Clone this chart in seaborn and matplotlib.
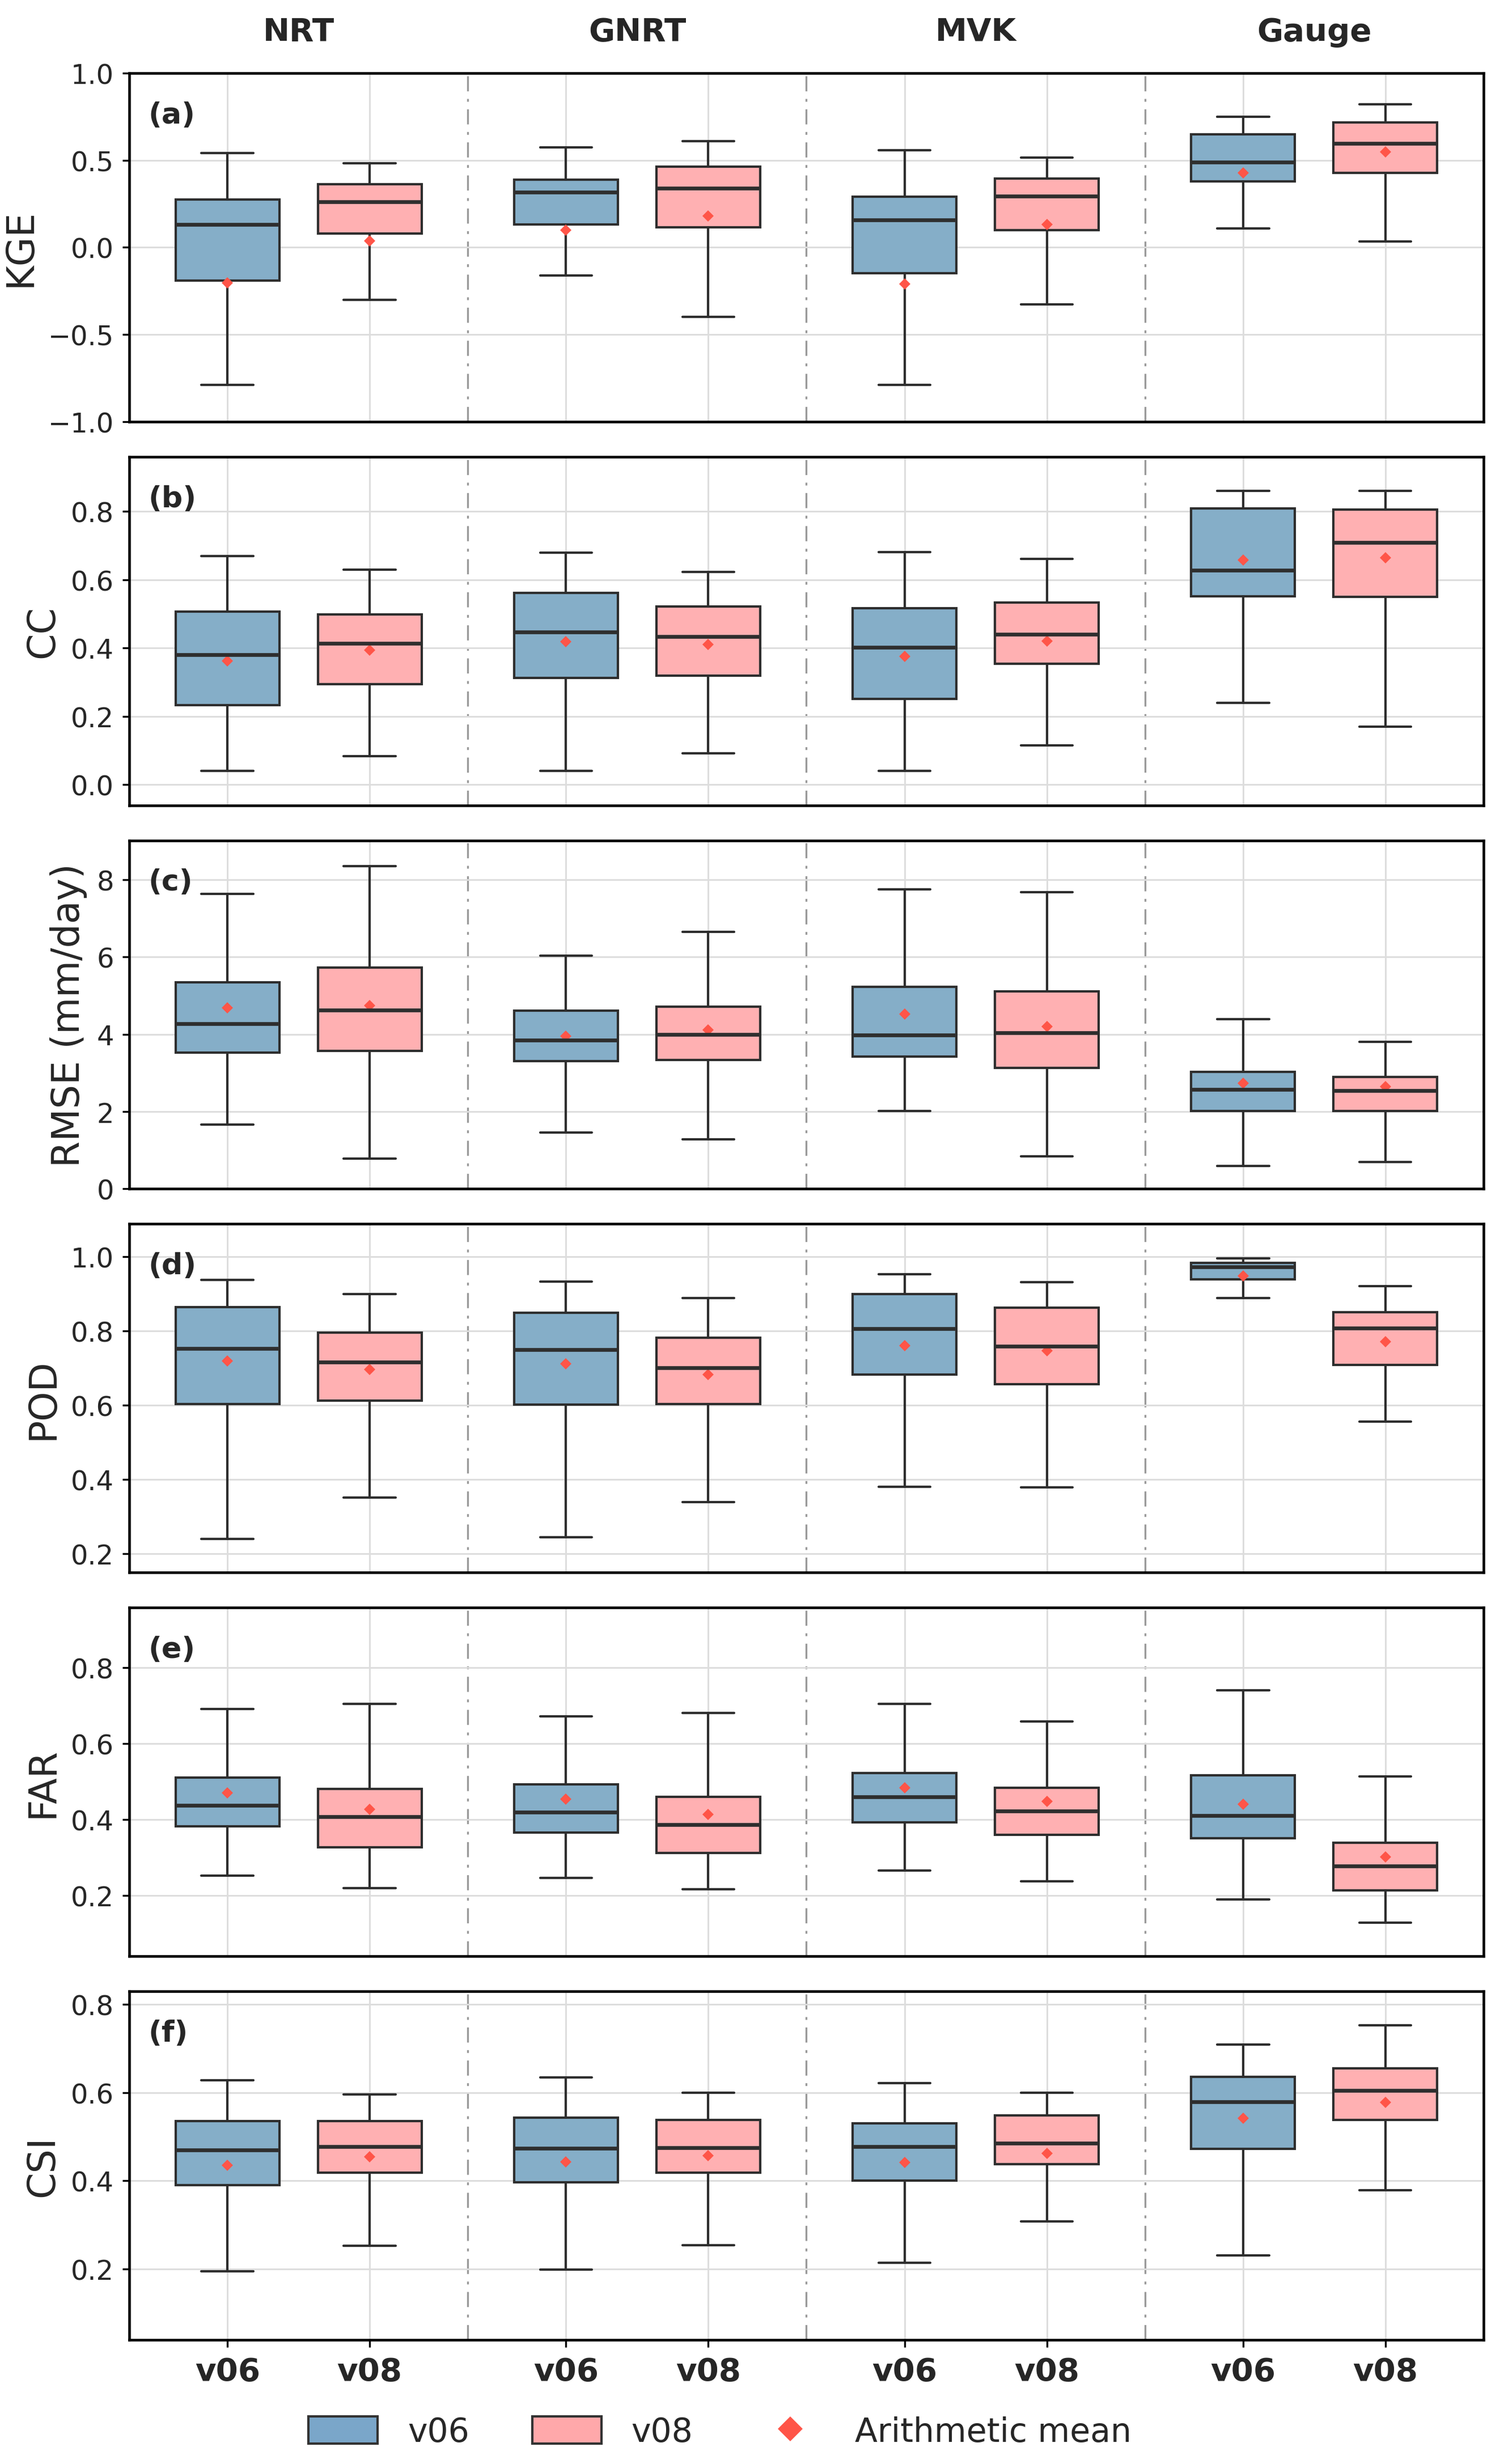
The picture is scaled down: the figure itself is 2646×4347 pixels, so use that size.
import matplotlib
matplotlib.use('Agg')
import matplotlib.pyplot as plt
from matplotlib.patches import Patch
from matplotlib.lines import Line2D
import numpy as np
import pandas as pd
import seaborn as sns

#%% data
groups = ['NRT', 'GNRT', 'MVK', 'Gauge']
versions = ['v06', 'v08']
metric_names = ['KGE', 'CC', 'RMSE (mm/day)', 'POD', 'FAR', 'CSI']
panel_tags = ['(a)', '(b)', '(c)', '(d)', '(e)', '(f)']

# each row: whisker low, Q1, median, Q3, whisker high
# row order: NRT v06, NRT v08, GNRT v06, GNRT v08, MVK v06, MVK v08, Gauge v06, Gauge v08
kge_box = [
    [-0.79, -0.19, 0.13, 0.275, 0.54],
    [-0.30, 0.078, 0.26, 0.364, 0.483],
    [-0.16, 0.13, 0.318, 0.389, 0.574],
    [-0.40, 0.115, 0.34, 0.464, 0.609],
    [-0.788, -0.147, 0.158, 0.29, 0.557],
    [-0.326, 0.098, 0.293, 0.396, 0.516],
    [0.108, 0.38, 0.49, 0.649, 0.75],
    [0.035, 0.426, 0.597, 0.717, 0.82],
]
kge_mean = [-0.205, 0.038, 0.098, 0.18, -0.21, 0.13, 0.426, 0.547]

cc_box = [
    [0.04, 0.233, 0.381, 0.506, 0.67],
    [0.084, 0.294, 0.414, 0.499, 0.63],
    [0.04, 0.312, 0.447, 0.561, 0.679],
    [0.092, 0.319, 0.433, 0.522, 0.623],
    [0.04, 0.252, 0.403, 0.516, 0.681],
    [0.115, 0.354, 0.441, 0.534, 0.661],
    [0.24, 0.552, 0.628, 0.808, 0.86],
    [0.17, 0.55, 0.709, 0.806, 0.86],
]
cc_mean = [0.363, 0.394, 0.418, 0.41, 0.375, 0.42, 0.657, 0.665]

rmse_box = [
    [1.67, 3.53, 4.28, 5.35, 7.63],
    [0.79, 3.57, 4.63, 5.73, 8.36],
    [1.46, 3.31, 3.85, 4.61, 6.04],
    [1.28, 3.34, 4.0, 4.72, 6.65],
    [2.02, 3.42, 3.98, 5.23, 7.75],
    [0.84, 3.13, 4.04, 5.11, 7.68],
    [0.6, 2.01, 2.58, 3.03, 4.39],
    [0.69, 2.01, 2.55, 2.9, 3.8],
]
rmse_mean = [4.68, 4.75, 3.96, 4.12, 4.53, 4.2, 2.74, 2.64]

pod_box = [
    [0.241, 0.603, 0.752, 0.863, 0.937],
    [0.352, 0.612, 0.716, 0.795, 0.898],
    [0.245, 0.601, 0.75, 0.848, 0.933],
    [0.339, 0.603, 0.7, 0.781, 0.888],
    [0.381, 0.683, 0.805, 0.899, 0.952],
    [0.379, 0.656, 0.759, 0.862, 0.931],
    [0.888, 0.939, 0.972, 0.983, 0.995],
    [0.556, 0.708, 0.808, 0.85, 0.92],
]
pod_mean = [0.719, 0.696, 0.712, 0.683, 0.76, 0.746, 0.947, 0.77]

far_box = [
    [0.252, 0.382, 0.438, 0.51, 0.691],
    [0.219, 0.327, 0.408, 0.481, 0.704],
    [0.246, 0.365, 0.419, 0.492, 0.672],
    [0.216, 0.312, 0.387, 0.459, 0.68],
    [0.266, 0.393, 0.459, 0.522, 0.704],
    [0.237, 0.36, 0.423, 0.484, 0.659],
    [0.189, 0.351, 0.41, 0.516, 0.74],
    [0.128, 0.213, 0.278, 0.339, 0.513],
]
far_mean = [0.47, 0.427, 0.454, 0.413, 0.483, 0.448, 0.441, 0.301]

csi_box = [
    [0.195, 0.39, 0.47, 0.535, 0.628],
    [0.253, 0.418, 0.477, 0.535, 0.596],
    [0.199, 0.397, 0.474, 0.543, 0.634],
    [0.254, 0.418, 0.475, 0.538, 0.599],
    [0.215, 0.401, 0.478, 0.53, 0.621],
    [0.308, 0.438, 0.485, 0.548, 0.599],
    [0.231, 0.472, 0.579, 0.635, 0.709],
    [0.379, 0.538, 0.604, 0.655, 0.752],
]
csi_mean = [0.435, 0.454, 0.443, 0.457, 0.441, 0.462, 0.542, 0.577]

all_boxes = [kge_box, cc_box, rmse_box, pod_box, far_box, csi_box]
all_means = [kge_mean, cc_mean, rmse_mean, pod_mean, far_mean, csi_mean]

# axis settings per panel
ylims = [(-1.0, 1.0), (-0.06, 0.96), (0, 9.02), (0.15, 1.087), (0.04, 0.958), (0.04, 0.829)]
yticks = [[-1.0, -0.5, 0.0, 0.5, 1.0], [0.0, 0.2, 0.4, 0.6, 0.8], [0, 2, 4, 6, 8],
          [0.2, 0.4, 0.6, 0.8, 1.0], [0.2, 0.4, 0.6, 0.8], [0.2, 0.4, 0.6, 0.8]]

#%% build long tables for seaborn
def box_frame(box_rows):
    rows = []
    for i, five in enumerate(box_rows):
        for v in five:
            rows.append({'group': groups[i // 2], 'version': versions[i % 2], 'value': v})
    return pd.DataFrame(rows)

def mean_frame(means):
    return pd.DataFrame({'group': [groups[i // 2] for i in range(8)],
                         'version': [versions[i % 2] for i in range(8)],
                         'mean': means})

#%% style
sns.set_style('whitegrid', {'axes.edgecolor': 'black', 'grid.color': '#DDDDDD',
                            'ytick.left': True, 'xtick.bottom': True})
plt.rcParams['font.family'] = ['DejaVu Sans']

box_colors = {'v06': '#85AEC8', 'v08': '#FFB0B2'}
legend_colors = {'v06': '#7AA6C9', 'v08': '#FFA8AA'}
mean_color = '#FF5548'
line_color = '#2E2E2E'

fig, axes = plt.subplots(6, 1, figsize=(8.82, 14.4933), dpi=300)
fig.subplots_adjust(left=0.0862, right=0.989, top=0.9701, bottom=0.0504, hspace=0.101)

xpos = [g + o for g in range(len(groups)) for o in (-0.21, 0.21)]

for k, ax in enumerate(axes):
    df_box = box_frame(all_boxes[k])
    df_mean = mean_frame(all_means[k])

    sns.boxplot(data=df_box, x='group', y='value', hue='version', order=groups,
                hue_order=versions, palette=box_colors, saturation=1, width=0.84, gap=0.27,
                whis=(0, 100), linecolor=line_color, linewidth=1.0,
                medianprops={'linewidth': 1.6}, legend=False, ax=ax)
    sns.pointplot(data=df_mean, x='group', y='mean', hue='version', order=groups,
                  hue_order=versions, palette={'v06': mean_color, 'v08': mean_color},
                  dodge=0.42, linestyle='none', markers='D', markersize=3.4,
                  markeredgewidth=0, errorbar=None, legend=False, ax=ax)

    for sep in (0.5, 1.5, 2.5):
        ax.axvline(sep, color='#9A9A9A', linestyle=(0, (8, 4, 1.5, 4)), linewidth=0.8,
                   zorder=0.5)

    ax.set_xlim(-0.5, 3.5)
    ax.set_ylim(*ylims[k])
    ax.set_yticks(yticks[k])
    ax.set_xticks(xpos)
    ax.grid(True, color='#DDDDDD', linewidth=0.7)
    ax.set_axisbelow(True)
    for sp in ax.spines.values():
        sp.set_color('black')
        sp.set_linewidth(1.1)
    ax.tick_params(axis='y', labelsize=11.5, length=3, width=0.8, color='black')
    ax.set_xlabel('')
    ax.set_ylabel(metric_names[k], fontsize=16)
    ax.text(0.014, 0.88, panel_tags[k], transform=ax.transAxes, fontsize=12.5,
            fontweight='bold', ha='left', va='center')

    if k == len(axes) - 1:
        ax.set_xticklabels(versions * len(groups), fontsize=13.5, fontweight='bold')
        ax.tick_params(axis='x', length=3, width=0.8, color='black', pad=4)
    else:
        ax.set_xticklabels([])
        ax.tick_params(axis='x', length=0)

# column titles
for g, name in enumerate(groups):
    axes[0].annotate(name, xy=(g, 1.119), xycoords=('data', 'axes fraction'),
                     ha='center', va='center', fontsize=13.5, fontweight='bold')

handles = [Patch(facecolor=legend_colors['v06'], edgecolor='#333333', linewidth=1, label='v06'),
           Patch(facecolor=legend_colors['v08'], edgecolor='#333333', linewidth=1, label='v08'),
           Line2D([], [], marker='D', linestyle='none', color=mean_color, markersize=6.5,
                  label='Arithmetic mean')]
fig.legend(handles=handles, loc='center', bbox_to_anchor=(0.48, 0.0129), ncol=3,
           frameon=False, fontsize=14, handlelength=2.1, handleheight=0.9,
           handletextpad=0.9, columnspacing=1.9)

fig.savefig('out.png', dpi=300)
